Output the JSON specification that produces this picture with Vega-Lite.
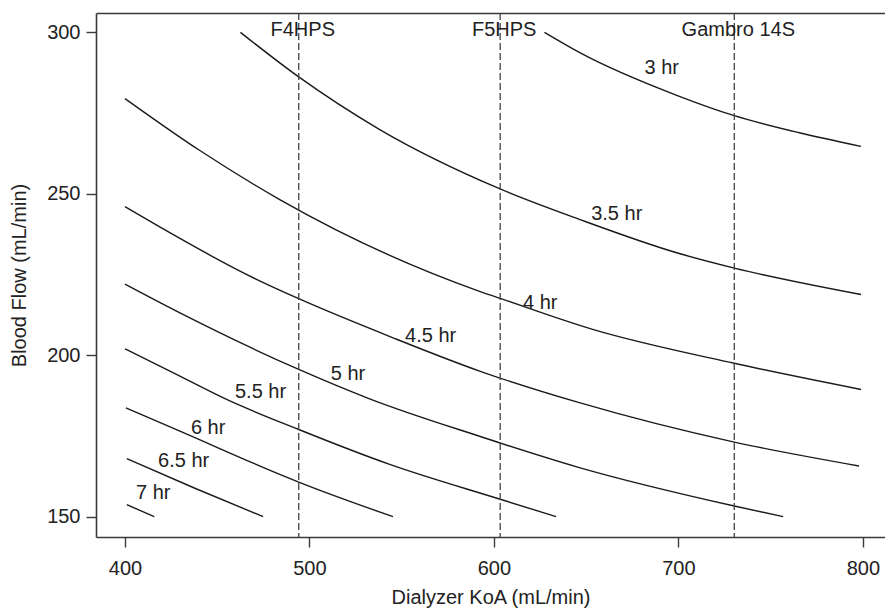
{
  "$schema": "https://vega.github.io/schema/vega-lite/v6.json",
  "autosize": {"type": "none"},
  "padding": {"left": 96, "top": 13, "right": 0, "bottom": 71},
  "width": 789,
  "height": 524,
  "background": "white",
  "config": {
    "view": {"stroke": null},
    "font": "Liberation Sans",
    "axis": {
      "grid": false,
      "domainColor": "#3a3a3a",
      "domainWidth": 1.6,
      "tickColor": "#3a3a3a",
      "tickWidth": 1.4,
      "tickSize": 10,
      "labelFont": "Liberation Sans",
      "labelFontSize": 20,
      "labelColor": "#222222",
      "titleFont": "Liberation Sans",
      "titleFontSize": 20,
      "titleFontWeight": "normal",
      "titleColor": "#222222"
    }
  },
  "datasets": {
    "curves": [
      {"curve": "3 hr", "koa": 627.4, "flow": 300.0},
      {"curve": "3 hr", "koa": 646.3, "flow": 293.8},
      {"curve": "3 hr", "koa": 700.5, "flow": 280.2},
      {"curve": "3 hr", "koa": 730.3, "flow": 274.2},
      {"curve": "3 hr", "koa": 765.5, "flow": 268.9},
      {"curve": "3 hr", "koa": 799.0, "flow": 264.7},
      {"curve": "3.5 hr", "koa": 462.6, "flow": 300.0},
      {"curve": "3.5 hr", "koa": 494.2, "flow": 286.2},
      {"curve": "3.5 hr", "koa": 538.1, "flow": 269.9},
      {"curve": "3.5 hr", "koa": 603.4, "flow": 251.5},
      {"curve": "3.5 hr", "koa": 646.3, "flow": 242.1},
      {"curve": "3.5 hr", "koa": 700.5, "flow": 231.5},
      {"curve": "3.5 hr", "koa": 730.3, "flow": 227.0},
      {"curve": "3.5 hr", "koa": 799.0, "flow": 218.8},
      {"curve": "4 hr", "koa": 400.0, "flow": 279.5},
      {"curve": "4 hr", "koa": 440.6, "flow": 263.4},
      {"curve": "4 hr", "koa": 483.9, "flow": 248.2},
      {"curve": "4 hr", "koa": 592.2, "flow": 219.8},
      {"curve": "4 hr", "koa": 603.4, "flow": 217.6},
      {"curve": "4 hr", "koa": 653.5, "flow": 208.0},
      {"curve": "4 hr", "koa": 730.3, "flow": 197.5},
      {"curve": "4 hr", "koa": 799.0, "flow": 189.4},
      {"curve": "4.5 hr", "koa": 400.0, "flow": 246.0},
      {"curve": "4.5 hr", "koa": 471.3, "flow": 223.5},
      {"curve": "4.5 hr", "koa": 494.2, "flow": 217.5},
      {"curve": "4.5 hr", "koa": 545.3, "flow": 205.4},
      {"curve": "4.5 hr", "koa": 592.2, "flow": 195.1},
      {"curve": "4.5 hr", "koa": 646.3, "flow": 185.3},
      {"curve": "4.5 hr", "koa": 730.3, "flow": 173.1},
      {"curve": "4.5 hr", "koa": 797.9, "flow": 165.7},
      {"curve": "5 hr", "koa": 400.0, "flow": 222.0},
      {"curve": "5 hr", "koa": 429.8, "flow": 213.1},
      {"curve": "5 hr", "koa": 494.2, "flow": 195.6},
      {"curve": "5 hr", "koa": 532.6, "flow": 186.5},
      {"curve": "5 hr", "koa": 592.2, "flow": 174.9},
      {"curve": "5 hr", "koa": 646.3, "flow": 165.2},
      {"curve": "5 hr", "koa": 730.3, "flow": 153.3},
      {"curve": "5 hr", "koa": 756.8, "flow": 150.0},
      {"curve": "5.5 hr", "koa": 400.0, "flow": 202.0},
      {"curve": "5.5 hr", "koa": 429.8, "flow": 193.5},
      {"curve": "5.5 hr", "koa": 455.1, "flow": 186.3},
      {"curve": "5.5 hr", "koa": 494.2, "flow": 177.0},
      {"curve": "5.5 hr", "koa": 543.5, "flow": 166.2},
      {"curve": "5.5 hr", "koa": 603.4, "flow": 155.4},
      {"curve": "5.5 hr", "koa": 633.7, "flow": 150.0},
      {"curve": "6 hr", "koa": 400.5, "flow": 183.7},
      {"curve": "6 hr", "koa": 429.8, "flow": 176.5},
      {"curve": "6 hr", "koa": 483.9, "flow": 163.1},
      {"curve": "6 hr", "koa": 494.2, "flow": 160.7},
      {"curve": "6 hr", "koa": 545.3, "flow": 150.0},
      {"curve": "6.5 hr", "koa": 401.0, "flow": 168.0},
      {"curve": "6.5 hr", "koa": 437.9, "flow": 158.8},
      {"curve": "6.5 hr", "koa": 474.9, "flow": 150.0},
      {"curve": "7 hr", "koa": 401.0, "flow": 153.7},
      {"curve": "7 hr", "koa": 415.9, "flow": 150.0}
    ],
    "labels": [
      {"label": "3 hr", "koa": 691.0, "flow": 287.2},
      {"label": "3.5 hr", "koa": 666.6, "flow": 242.0},
      {"label": "4 hr", "koa": 625.1, "flow": 214.2},
      {"label": "4.5 hr", "koa": 565.7, "flow": 204.2},
      {"label": "5 hr", "koa": 520.9, "flow": 192.2},
      {"label": "5.5 hr", "koa": 473.5, "flow": 186.6},
      {"label": "6 hr", "koa": 445.1, "flow": 175.5},
      {"label": "6.5 hr", "koa": 431.8, "flow": 165.3},
      {"label": "7 hr", "koa": 415.3, "flow": 155.4}
    ],
    "dialyzers": [
      {"name": "F4HPS", "koa": 494.2, "flow": 299},
      {"name": "F5HPS", "koa": 603.4, "flow": 299},
      {"name": "Gambro 14S", "koa": 730.3, "flow": 299}
    ]
  },
  "layer": [
    {
      "data": {"name": "curves"},
      "mark": {"type": "line", "interpolate": "monotone", "color": "#1a1a1a", "strokeWidth": 1.4},
      "encoding": {
        "x": {
          "field": "koa", "type": "quantitative",
          "scale": {"domain": [384.3, 812.0], "nice": false, "zero": false},
          "axis": {"orient": "bottom", "title": "Dialyzer KoA (mL/min)", "values": [400, 500, 600, 700, 800], "labelPadding": 11, "titlePadding": 9, "domain": true}
        },
        "y": {
          "field": "flow", "type": "quantitative",
          "scale": {"domain": [143.7, 306.0], "nice": false, "zero": false},
          "axis": {"title": "Blood Flow (mL/min)", "values": [150, 200, 250, 300], "labelPadding": 6, "titlePadding": 17, "domain": true}
        },
        "detail": {"field": "curve"}
      }
    },
    {
      "data": {"name": "dialyzers"},
      "mark": {"type": "rule", "color": "#444444", "strokeWidth": 1.3, "strokeDash": [7, 3]},
      "encoding": {
        "x": {
          "field": "koa", "type": "quantitative",
          "axis": {"orient": "top", "labels": false, "ticks": false, "domain": true, "title": null}
        }
      }
    },
    {
      "data": {"name": "dialyzers"},
      "mark": {"type": "text", "font": "Liberation Sans", "fontSize": 20, "color": "#222222", "align": "center", "baseline": "alphabetic", "dx": 4},
      "encoding": {
        "x": {"field": "koa", "type": "quantitative", "axis": null},
        "y": {"field": "flow", "type": "quantitative", "axis": {"title": "Blood Flow (mL/min)", "values": [150, 200, 250, 300], "labelPadding": 6, "titlePadding": 17, "domain": true}},
        "text": {"field": "name"}
      }
    },
    {
      "data": {"name": "labels"},
      "mark": {"type": "text", "font": "Liberation Sans", "fontSize": 20, "color": "#222222", "align": "center", "baseline": "alphabetic"},
      "encoding": {
        "x": {"field": "koa", "type": "quantitative", "axis": null},
        "y": {"field": "flow", "type": "quantitative", "axis": {"title": "Blood Flow (mL/min)", "values": [150, 200, 250, 300], "labelPadding": 6, "titlePadding": 17, "domain": true}},
        "text": {"field": "label"}
      }
    }
  ]
}
